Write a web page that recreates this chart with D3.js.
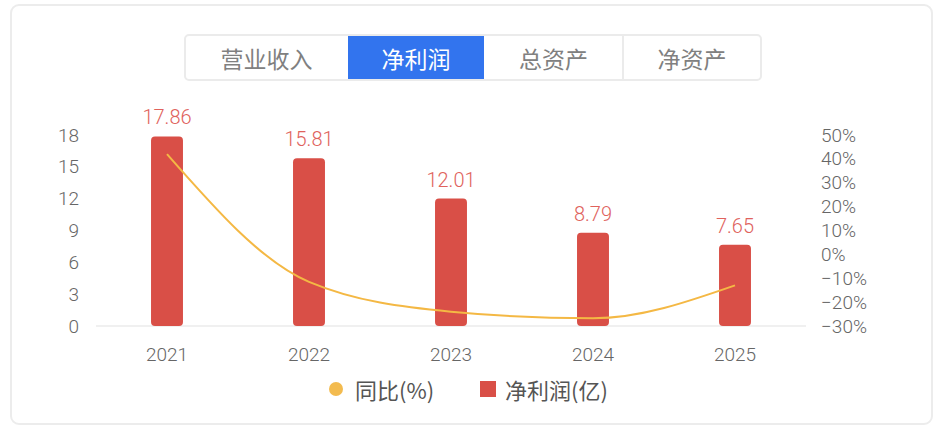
<!DOCTYPE html>
<html><head><meta charset="utf-8">
<script src="https://cdn.jsdelivr.net/npm/d3@7"></script>
<style>
html,body{margin:0;padding:0;background:#fff;}
svg{display:block;font-family:"Noto Sans CJK SC","Noto Sans",sans-serif;}
.num{font-family:Roboto,"Liberation Sans",sans-serif;font-weight:300;}
</style></head>
<body><svg id="c" width="936" height="432"></svg>
<script>
const years = ["2021","2022","2023","2024","2025"];
const profit = [17.86, 15.81, 12.01, 8.79, 7.65];
const yoy = [42.0, -11.5, -24.0, -26.8, -13.0];
const leftTicks = [0,3,6,9,12,15,18];
const rightTicks = [-30,-20,-10,0,10,20,30,40,50];
const tabs = ["营业收入","净利润","总资产","净资产"];
const activeTab = 1;
const legendItems = ["同比(%)","净利润(亿)"];

const svg = d3.select("#c");
// card
svg.append("rect").attr("x",11).attr("y",5).attr("width",921).attr("height",419)
  .attr("rx",8).attr("fill","#fff").attr("stroke","#ececec").attr("stroke-width",2);

// tabs
const tabEdges = [185,348,484,623,761];
const tg = svg.append("g");
tg.append("rect").attr("x",185).attr("y",35).attr("width",576).attr("height",45)
  .attr("rx",4).attr("fill","#fff").attr("stroke","#ebebeb").attr("stroke-width",2);
tabs.forEach((t,i)=>{
  const x0 = tabEdges[i], x1 = tabEdges[i+1];
  if(i===activeTab){
    tg.append("rect").attr("x",x0).attr("y",36).attr("width",x1-x0).attr("height",43).attr("fill","#3274ee");
  } else if(i>0 && i-1!==activeTab){
    tg.append("line").attr("x1",x0).attr("x2",x0).attr("y1",36).attr("y2",79).attr("stroke","#ebebeb").attr("stroke-width",2);
  }
  tg.append("text").attr("x",(x0+x1)/2).attr("y",58).attr("text-anchor","middle")
    .attr("dominant-baseline","central").attr("font-size",23)
    .attr("fill", i===activeTab?"#fff":"#808080").text(t);
});

const x = d3.scaleBand().domain(years).range([96,806]).paddingInner(0.775).paddingOuter(0.3875);
const yL = d3.scaleLinear().domain([0,18]).range([326,135]);
const yR = d3.scaleLinear().domain([-30,50]).range([326,135]);

// baseline
svg.append("line").attr("x1",96).attr("x2",806).attr("y1",yL(0)).attr("y2",yL(0))
  .attr("stroke","#f0f0f0").attr("stroke-width",2);

// left axis labels
svg.append("g").attr("class","num").selectAll("text").data(leftTicks).join("text")
  .attr("x",79).attr("y",d=>yL(d)).attr("text-anchor","end").attr("dominant-baseline","central")
  .attr("font-size",19).attr("fill","#666").text(d=>d);
// right axis labels
svg.append("g").attr("class","num").selectAll("text").data(rightTicks).join("text")
  .attr("x",821).attr("y",d=>yR(d)).attr("dominant-baseline","central")
  .attr("font-size",19).attr("fill","#666").text(d=>(d<0?"\u2212"+(-d):d)+"%");
// x labels
svg.append("g").attr("class","num").selectAll("text").data(years).join("text")
  .attr("x",d=>x(d)+x.bandwidth()/2).attr("y",354).attr("text-anchor","middle").attr("dominant-baseline","central")
  .attr("font-size",19).attr("fill","#666").text(d=>d);

// bars
svg.append("g").selectAll("rect").data(profit).join("rect")
  .attr("x",(d,i)=>x(years[i])).attr("width",x.bandwidth())
  .attr("y",d=>yL(d)).attr("height",d=>yL(0)-yL(d)).attr("rx",4)
  .attr("fill","#d94f47");
// bar labels
svg.append("g").attr("class","num").selectAll("text").data(profit).join("text")
  .attr("x",(d,i)=>x(years[i])+x.bandwidth()/2).attr("y",d=>yL(d)-19)
  .attr("text-anchor","middle").attr("dominant-baseline","central")
  .attr("font-size",20).attr("fill","#e0625c").text(d=>d.toFixed(2));

// line
const line = d3.line().x((d,i)=>x(years[i])+x.bandwidth()/2).y(d=>yR(d)).curve(d3.curveMonotoneX);
svg.append("path").datum(yoy).attr("d",line).attr("fill","none")
  .attr("stroke","#f4b844").attr("stroke-width",2);

// legend
const lg = svg.append("g");
lg.append("circle").attr("cx",336).attr("cy",389).attr("r",7).attr("fill","#f3bb4f");
lg.append("text").attr("x",355).attr("y",389).attr("dominant-baseline","central")
  .attr("font-size",22).attr("fill","#555").text(legendItems[0]);
lg.append("rect").attr("x",480).attr("y",381).attr("width",16).attr("height",16).attr("fill","#d94f47");
lg.append("text").attr("x",505).attr("y",389).attr("dominant-baseline","central")
  .attr("font-size",22).attr("fill","#555").text(legendItems[1]);
</script></body></html>
